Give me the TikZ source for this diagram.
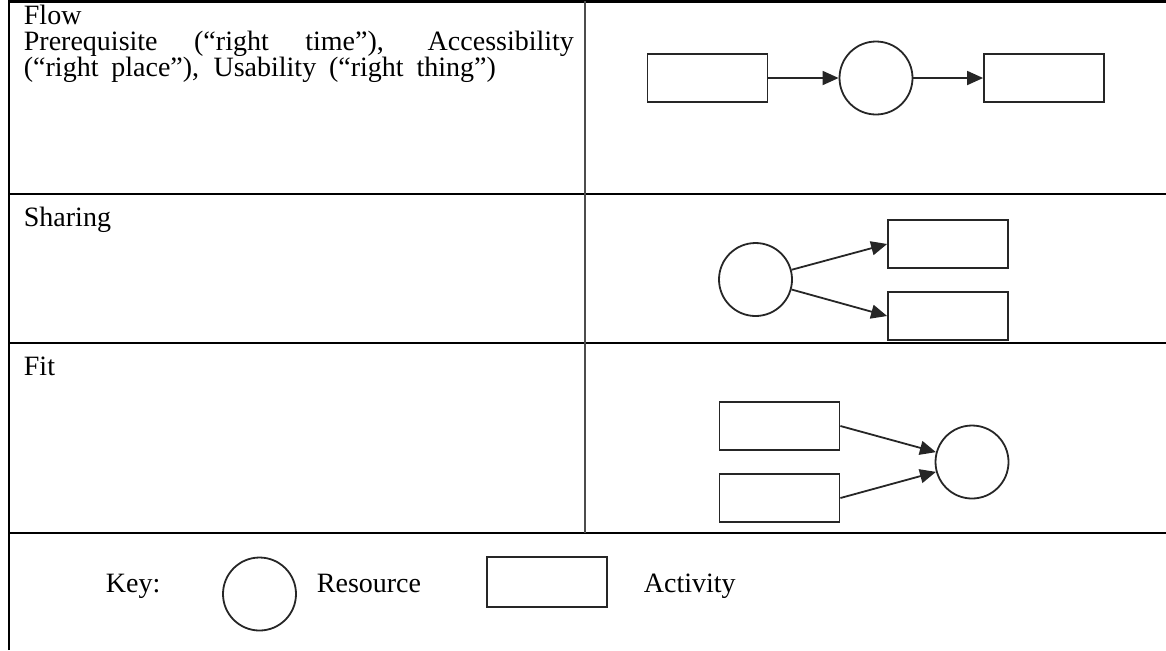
\documentclass[tikz,border=0pt]{standalone}
\usepackage{fontspec}
\setmainfont{Liberation Serif}
\usetikzlibrary{arrows.meta}

\begin{document}
\begin{tikzpicture}[x=0.5pt,y=-0.5pt,->,>={Triangle[length=8pt,width=7pt]},line width=0.9pt,
    res node/.style={circle,draw=black!85,minimum size=36.5pt,inner sep=0pt},
    act node/.style={rectangle,draw=black!85,minimum width=60pt,minimum height=24pt,inner sep=0pt},
    rule/.style={-,line width=1.3pt},
    divider/.style={-,line width=1pt,black!70},
    cell text/.style={anchor=base west,inner sep=0pt,font=\fontsize{14}{13.2}\selectfont}]

    \useasboundingbox (0,0) rectangle (1166,650);

    % table rules
    \draw[rule] (9,650) -- (9,1.3) -- (1166,1.3);
    \draw[rule] (9,194) -- (1166,194);
    \draw[rule] (9,343) -- (1166,343);
    \draw[rule] (9,533) -- (1166,533);
    \draw[divider] (585,1.3) -- (585,533);

    % left column
    \node[cell text] (flow) at (23,24) {\parbox[t]{275pt}{Flow\\
        \makebox[\linewidth][s]{Prerequisite (“right time”), Accessibility}\\
        \makebox[236pt][s]{(“right place”), Usability (“right thing”)}}};
    \node[cell text] (sharing) at (23,226) {Sharing};
    \node[cell text] (fit) at (23,375) {Fit};

    % flow
    \node[act node] (1) at (707.5,78) {};
    \node[res node] (2) at (876,78) {};
    \node[act node] (3) at (1044,78) {};

    % sharing
    \node[res node] (4) at (755.5,279.5) {};
    \node[act node] (5) at (948,244) {};
    \node[act node] (6) at (948,316) {};

    % fit
    \node[act node] (7) at (779.5,426) {};
    \node[act node] (8) at (779.5,498) {};
    \node[res node] (9) at (972,462) {};

    \path[black!85]
        (1) edge (2)
        (2) edge (3)
        (4) edge (5.west)
        (4) edge (6.west)
        (7.east) edge (9)
        (8.east) edge (9)
    ;

    % key
    \node[cell text] (key) at (105,592) {Key:};
    \node[res node] (10) at (259.5,594) {};
    \node[cell text] (resource) at (316,592) {Resource};
    \node[act node,minimum width=60pt,minimum height=25pt] (11) at (547,582) {};
    \node[cell text] (activity) at (643,592) {Activity};
\end{tikzpicture}
\end{document}
